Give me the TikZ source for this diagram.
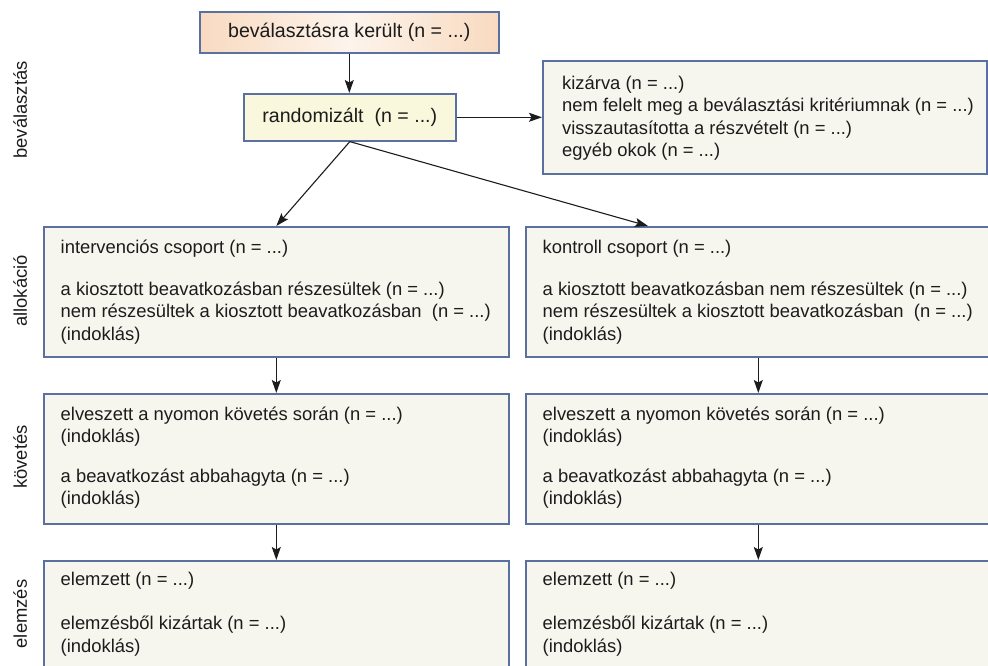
\documentclass[tikz,border=0pt]{standalone}
\usepackage{fontspec}
\setmainfont{Liberation Sans}
\usetikzlibrary{arrows.meta}

\definecolor{frameblue}{HTML}{5A70A0}
\definecolor{paper}{HTML}{F7F6EE}
\definecolor{paleyellow}{HTML}{F9F7DC}
\definecolor{peach}{HTML}{F8DAC0}
\definecolor{peachlight}{HTML}{FDF4EC}
\definecolor{ink}{HTML}{1C1C1C}

\newcommand\bodyfont{\fontsize{18.4}{22.5}\selectfont}
\newcommand\headfont{\fontsize{19.6}{23.5}\selectfont}
\newcommand\firstline{\rule{0pt}{16pt}}

\begin{document}
\begin{tikzpicture}[x=1pt, y=-1pt,
  box/.style={draw=frameblue, line width=1.6pt, fill=paper, inner sep=0pt, anchor=north west},
  txt/.style={anchor=north west, inner sep=0pt, align=left, font=\bodyfont, text=ink},
  link/.style={draw=ink, line width=1.1pt, -{Stealth[length=13pt,width=9pt,inset=2.5pt]}},
  phase/.style={rotate=90, anchor=base, font=\bodyfont, text=ink}]
\useasboundingbox (0,0) rectangle (988,666);

% screening stage
\node[box, minimum width=299pt, minimum height=41pt, shading=axis,
      left color=peach, right color=peach, middle color=peachlight,
      font=\headfont, text=ink] (top) at (199,11) {beválasztásra került (n = ...)};
\node[box, minimum width=212pt, minimum height=47pt, fill=paleyellow,
      font=\headfont, text=ink] (rand) at (243,93) {randomizált\ \ (n = ...)};
\node[box, minimum width=444pt, minimum height=113pt] (excl) at (542,60) {};
\node[txt] (exclT) at ([xshift=20pt, yshift=-13pt]excl.north west)
  {\firstline kizárva (n = ...)\\
   nem felelt meg a beválasztási kritériumnak (n = ...)\\
   visszautasította a részvételt (n = ...)\\
   egyéb okok (n = ...)};

% allocation stage
\node[box, minimum width=465pt, minimum height=130pt] (allocL) at (43,226) {};
\node[box, minimum width=465pt, minimum height=130pt] (allocR) at (525,226) {};
\node[txt] (allocLT) at ([xshift=17.5pt, yshift=-11pt]allocL.north west)
  {\firstline intervenciós csoport (n = ...)\\[19.5pt]
   a kiosztott beavatkozásban részesültek (n = ...)\\
   nem részesültek a kiosztott beavatkozásban\ \ (n = ...)\\
   (indoklás)};
\node[txt] (allocRT) at ([xshift=17.5pt, yshift=-11pt]allocR.north west)
  {\firstline kontroll csoport (n = ...)\\[19.5pt]
   a kiosztott beavatkozásban nem részesültek (n = ...)\\
   nem részesültek a kiosztott beavatkozásban\ \ (n = ...)\\
   (indoklás)};

% follow-up stage
\node[box, minimum width=465pt, minimum height=130pt] (followL) at (43,393) {};
\node[box, minimum width=465pt, minimum height=130pt] (followR) at (525,393) {};
\node[txt] (followLT) at ([xshift=17.5pt, yshift=-11pt]followL.north west)
  {\firstline elveszett a nyomon követés során (n = ...)\\
   (indoklás)\\[17pt]
   a beavatkozást abbahagyta (n = ...)\\
   (indoklás)};
\node[txt] (followRT) at ([xshift=17.5pt, yshift=-11pt]followR.north west)
  {\firstline elveszett a nyomon követés során (n = ...)\\
   (indoklás)\\[17pt]
   a beavatkozást abbahagyta (n = ...)\\
   (indoklás)};

% analysis stage
\node[box, minimum width=465pt, minimum height=130pt] (analL) at (43,560) {};
\node[box, minimum width=465pt, minimum height=130pt] (analR) at (525,560) {};
\node[txt] (analLT) at ([xshift=17.5pt, yshift=-9pt]analL.north west)
  {\firstline elemzett (n = ...)\\[22pt]
   elemzésből kizártak (n = ...)\\
   (indoklás)};
\node[txt] (analRT) at ([xshift=17.5pt, yshift=-9pt]analR.north west)
  {\firstline elemzett (n = ...)\\[22pt]
   elemzésből kizártak (n = ...)\\
   (indoklás)};

% stage labels
\node[phase] (phScreen) at (27,110) {beválasztás};
\node[phase] (phAlloc)  at (27,291) {allokáció};
\node[phase] (phFollow) at (27,457) {követés};
\node[phase] (phAnal)   at (27,614) {elemzés};

% flow
\draw[link] (top.south) -- (top.south |- rand.north);
\draw[link] (rand.east) -- (excl.west);
\draw[link] (rand.south) -- (allocL.north);
\draw[link] (rand.south) -- ([xshift=123pt]allocR.north west);
\draw[link] (allocL.south) -- (followL.north);
\draw[link] (allocR.south) -- (followR.north);
\draw[link] (followL.south) -- (analL.north);
\draw[link] (followR.south) -- (analR.north);
\end{tikzpicture}
\end{document}
